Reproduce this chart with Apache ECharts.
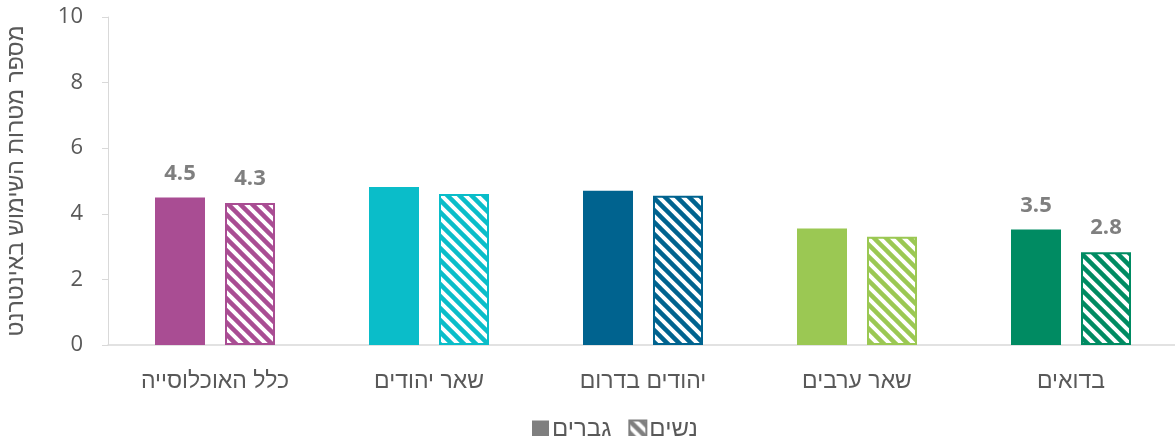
<!DOCTYPE html>
<html lang="he">
<head>
<meta charset="UTF-8" />
<title>מספר מטרות השימוש באינטרנט</title>
<script src="https://cdn.jsdelivr.net/npm/echarts@6/dist/echarts.min.js"></script>
<style>
    body { margin: 0; background: #fff; }
    #chart { width: 1175px; height: 436px; }
</style>
</head>
<body>
<div id="chart"></div>
<script>
    const categories = ['כלל האוכלוסייה', 'שאר יהודים', 'יהודים בדרום', 'שאר ערבים', 'בדואים'];
    const men = [4.5, 4.82, 4.7, 3.55, 3.52];
    const women = [4.33, 4.6, 4.55, 3.3, 2.83];
    const catColors = ['#A94D93', '#0ABDC9', '#00638F', '#9BC853', '#008B62'];
    const showLabel = [true, false, false, false, true];
    const seriesNames = ['גברים', 'נשים'];
    const HEB = '"Liberation Sans", "DejaVu Sans", sans-serif';
    const NUM = '"Open Sans", "Liberation Sans", sans-serif';

    // diagonal hatch pattern (stripes from top-left to bottom-right)
    function hatch(color) {
        const c = document.createElement('canvas');
        const s = 12;
        c.width = s; c.height = s;
        const ctx = c.getContext('2d');
        ctx.fillStyle = '#fff';
        ctx.fillRect(0, 0, s, s);
        ctx.strokeStyle = color;
        ctx.lineWidth = 4.5;
        for (let k = -1; k <= 1; k++) {
            ctx.beginPath();
            ctx.moveTo(k * s - 2, -2);
            ctx.lineTo(k * s + s + 2, s + 2);
            ctx.stroke();
        }
        return { image: c, repeat: 'repeat' };
    }

    const labelStyle = {
        position: 'top', distance: 13, color: '#7F7F7F',
        fontSize: 22, fontWeight: 'bold', fontFamily: NUM,
        formatter: p => p.value.toFixed(1)
    };

    const chart = echarts.init(document.getElementById('chart'));
    chart.setOption({
        animation: false,
        grid: { left: 108, width: 1070, top: 17, bottom: 91, outerBoundsMode: 'none', containLabel: false },
        legend: {
            top: 412, left: 527,
            itemWidth: 17, itemHeight: 17, itemGap: 17,
            textStyle: { color: '#595959', fontSize: 24, fontFamily: HEB, padding: [0, 0, 0, -2] },
            data: [
                { name: seriesNames[0], icon: 'rect', itemStyle: { color: '#7F7F7F' } },
                { name: seriesNames[1], icon: 'rect', itemStyle: { color: hatch('#7F7F7F'), borderColor: '#7F7F7F', borderWidth: 2 } }
            ]
        },
        xAxis: {
            type: 'category', data: categories,
            axisLine: { lineStyle: { color: '#D9D9D9', width: 1.5 } },
            axisTick: { show: false },
            axisLabel: { color: '#595959', fontSize: 23, margin: 25, fontFamily: HEB }
        },
        yAxis: {
            type: 'value', min: 0, max: 10, interval: 2,
            name: 'מספר מטרות השימוש באינטרנט', nameLocation: 'middle', nameGap: 80,
            nameTextStyle: { color: '#595959', fontSize: 23, fontFamily: HEB },
            axisLine: { show: true, lineStyle: { color: '#D9D9D9' } },
            axisTick: { show: true, length: 6, lineStyle: { color: '#D9D9D9' } },
            axisLabel: { color: '#595959', fontSize: 22, margin: 25, fontFamily: NUM },
            splitLine: { show: false }
        },
        series: [
            {
                name: seriesNames[0], type: 'bar', barWidth: 50, barGap: '40%',
                itemStyle: { color: '#7F7F7F' },
                data: men.map((v, i) => ({
                    value: v,
                    itemStyle: { color: catColors[i] },
                    label: Object.assign({ show: showLabel[i] }, labelStyle)
                }))
            },
            {
                name: seriesNames[1], type: 'bar', barWidth: 50,
                itemStyle: { color: '#7F7F7F' },
                data: women.map((v, i) => ({
                    value: v,
                    itemStyle: { color: hatch(catColors[i]), borderColor: catColors[i], borderWidth: 2 },
                    label: Object.assign({ show: showLabel[i] }, labelStyle)
                }))
            }
        ]
    });
</script>
</body>
</html>
